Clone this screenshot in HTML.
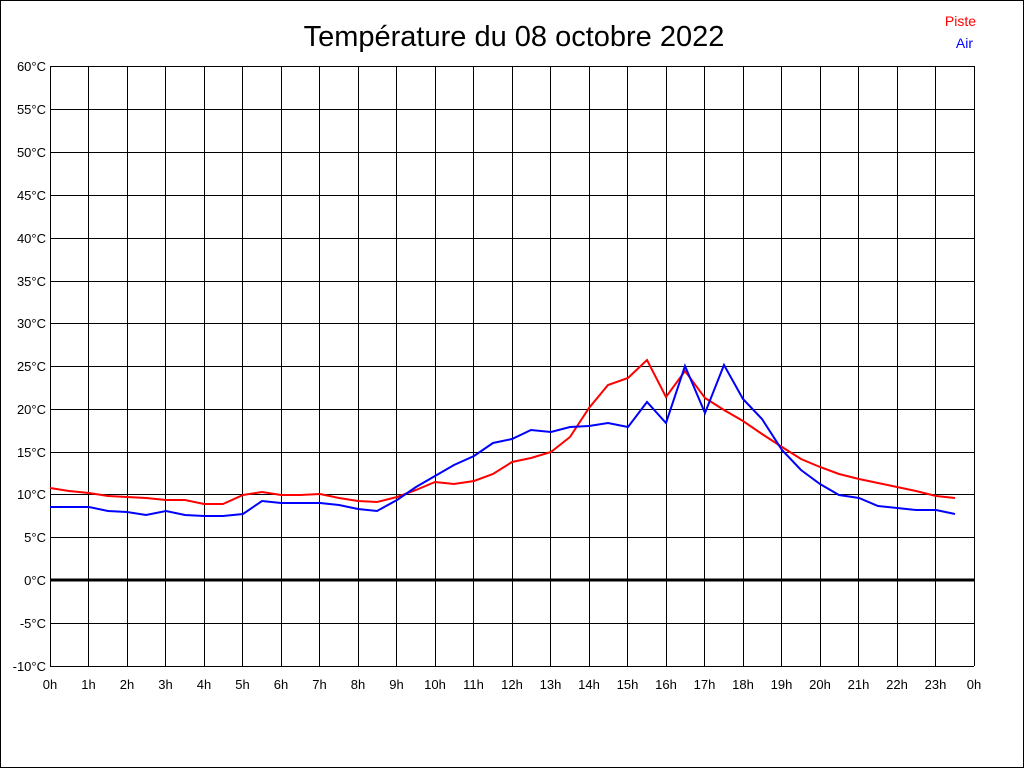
<!DOCTYPE html><html><head><style>body{margin:0;background:#fff}svg{display:block;font-family:"Liberation Sans",sans-serif}</style></head><body>
<svg width="1024" height="768" viewBox="0 0 1024 768" xmlns="http://www.w3.org/2000/svg">
<rect x="0.5" y="0.5" width="1023" height="767" fill="#fff" stroke="#000"/>
<text x="514" y="46" font-size="29" text-anchor="middle">Température du 08 octobre 2022</text>
<text x="976" y="26" font-size="14" fill="#f00" text-anchor="end">Piste</text>
<text x="973" y="48" font-size="14" fill="#00f" text-anchor="end">Air</text>
<g stroke="#000" stroke-width="1">
<line x1="50.5" y1="66" x2="50.5" y2="666"/><line x1="88.5" y1="66" x2="88.5" y2="666"/><line x1="127.5" y1="66" x2="127.5" y2="666"/><line x1="165.5" y1="66" x2="165.5" y2="666"/><line x1="204.5" y1="66" x2="204.5" y2="666"/><line x1="242.5" y1="66" x2="242.5" y2="666"/><line x1="281.5" y1="66" x2="281.5" y2="666"/><line x1="319.5" y1="66" x2="319.5" y2="666"/><line x1="358.5" y1="66" x2="358.5" y2="666"/><line x1="396.5" y1="66" x2="396.5" y2="666"/><line x1="435.5" y1="66" x2="435.5" y2="666"/><line x1="473.5" y1="66" x2="473.5" y2="666"/><line x1="512.5" y1="66" x2="512.5" y2="666"/><line x1="550.5" y1="66" x2="550.5" y2="666"/><line x1="589.5" y1="66" x2="589.5" y2="666"/><line x1="627.5" y1="66" x2="627.5" y2="666"/><line x1="666.5" y1="66" x2="666.5" y2="666"/><line x1="704.5" y1="66" x2="704.5" y2="666"/><line x1="743.5" y1="66" x2="743.5" y2="666"/><line x1="781.5" y1="66" x2="781.5" y2="666"/><line x1="820.5" y1="66" x2="820.5" y2="666"/><line x1="858.5" y1="66" x2="858.5" y2="666"/><line x1="897.5" y1="66" x2="897.5" y2="666"/><line x1="935.5" y1="66" x2="935.5" y2="666"/><line x1="974.5" y1="66" x2="974.5" y2="666"/>
<line x1="50" y1="66.5" x2="974" y2="66.5"/><line x1="50" y1="109.5" x2="974" y2="109.5"/><line x1="50" y1="152.5" x2="974" y2="152.5"/><line x1="50" y1="195.5" x2="974" y2="195.5"/><line x1="50" y1="238.5" x2="974" y2="238.5"/><line x1="50" y1="281.5" x2="974" y2="281.5"/><line x1="50" y1="323.5" x2="974" y2="323.5"/><line x1="50" y1="366.5" x2="974" y2="366.5"/><line x1="50" y1="409.5" x2="974" y2="409.5"/><line x1="50" y1="452.5" x2="974" y2="452.5"/><line x1="50" y1="494.5" x2="974" y2="494.5"/><line x1="50" y1="537.5" x2="974" y2="537.5"/><line x1="50" y1="580" x2="974" y2="580" stroke-width="3"/><line x1="50" y1="623.5" x2="974" y2="623.5"/><line x1="50" y1="666.5" x2="974" y2="666.5"/>
</g>
<g font-size="13" text-anchor="end">
<text x="46" y="71">60°C</text><text x="46" y="114">55°C</text><text x="46" y="157">50°C</text><text x="46" y="200">45°C</text><text x="46" y="243">40°C</text><text x="46" y="286">35°C</text><text x="46" y="328">30°C</text><text x="46" y="371">25°C</text><text x="46" y="414">20°C</text><text x="46" y="457">15°C</text><text x="46" y="499">10°C</text><text x="46" y="542">5°C</text><text x="46" y="585">0°C</text><text x="46" y="628">-5°C</text><text x="46" y="671">-10°C</text>
</g>
<g font-size="13" text-anchor="middle">
<text x="50" y="689">0h</text><text x="88.5" y="689">1h</text><text x="127" y="689">2h</text><text x="165.5" y="689">3h</text><text x="204" y="689">4h</text><text x="242.5" y="689">5h</text><text x="281" y="689">6h</text><text x="319.5" y="689">7h</text><text x="358" y="689">8h</text><text x="396.5" y="689">9h</text><text x="435" y="689">10h</text><text x="473.5" y="689">11h</text><text x="512" y="689">12h</text><text x="550.5" y="689">13h</text><text x="589" y="689">14h</text><text x="627.5" y="689">15h</text><text x="666" y="689">16h</text><text x="704.5" y="689">17h</text><text x="743" y="689">18h</text><text x="781.5" y="689">19h</text><text x="820" y="689">20h</text><text x="858.5" y="689">21h</text><text x="897" y="689">22h</text><text x="935.5" y="689">23h</text><text x="974" y="689">0h</text>
</g>
<polyline fill="none" stroke="#f00" stroke-width="2" points="50,488 69,491 89,493 108,496 127,497 146,498 166,500 185,500 204,504 223,504 243,495 262,492 281,495 300,495 320,494 339,498 358,501 377,502 397,497 416,490 435,482 454,484 474,481 493,474 512,462 531,458 551,452 570,437 589,408 608,385 628,378 647,360 666,397 685,371 705,398 724,410 743,421 762,434 782,447 801,459 820,467 839,474 859,479 878,483 897,487 916,491 936,496 955,498"/>
<polyline fill="none" stroke="#00f" stroke-width="2" points="50,507 69,507 89,507 108,511 127,512 146,515 166,511 185,515 204,516 223,516 243,514 262,501 281,503 300,503 320,503 339,505 358,509 377,511 397,500 416,487 435,476 454,465 474,456 493,443 512,439 531,430 551,432 570,427 589,426 608,423 628,427 647,402 666,423 685,366 705,413 724,365 743,399 762,419 782,450 801,470 820,484 839,495 859,498 878,506 897,508 916,510 936,510 955,514"/>
</svg></body></html>
